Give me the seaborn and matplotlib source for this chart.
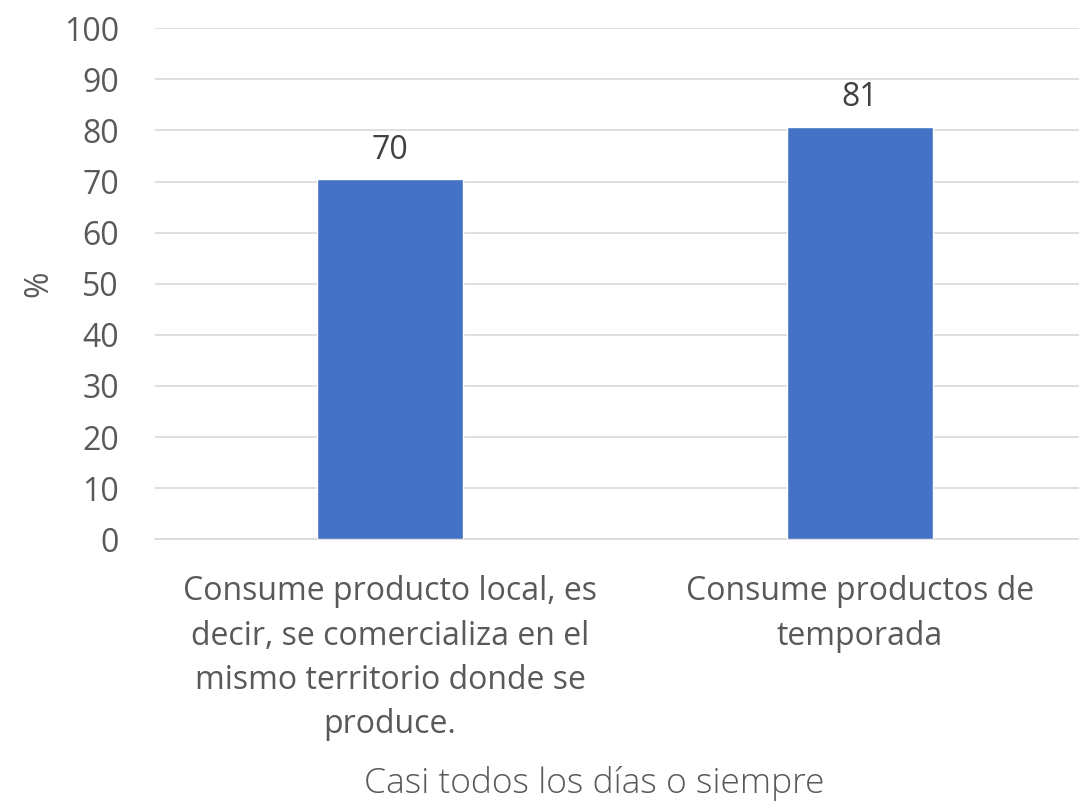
import matplotlib
matplotlib.use("Agg")
import matplotlib.pyplot as plt
import seaborn as sns
import pandas as pd

categories = [
    "Consume producto local, es\ndecir, se comercializa en el\nmismo territorio donde se\nproduce.",
    "Consume productos de\ntemporada",
]
values = [70.4, 80.7]
y_ticks = [0, 10, 20, 30, 40, 50, 60, 70, 80, 90, 100]
title = "Casi todos los días o siempre"
y_label = "%"

sns.set_theme(style="white")
plt.rcParams["font.family"] = ["Open Sans", "DejaVu Sans"]

text_color = "#595959"
bar_color = "#4472C4"
fs = 23

df = pd.DataFrame({"cat": categories, "val": values})

fig = plt.figure(figsize=(10.79, 8.06), dpi=100)
# plot area runs slightly past the right edge of the figure
ax = fig.add_axes([0.1437, 0.331, 0.8712, 0.634])

sns.barplot(data=df, x="cat", y="val", color=bar_color, width=0.31,
            saturation=1, ax=ax, zorder=3)

ax.set_ylim(0, 100)
ax.set_xlim(-0.5, 1.5)
ax.set_yticks(y_ticks)
ax.set_yticklabels([str(t) for t in y_ticks], fontsize=fs, color=text_color)
ax.yaxis.grid(True, color="#D9D9D9", linewidth=1.2, zorder=0)
ax.set_axisbelow(True)
ax.tick_params(axis="y", length=0, pad=26)
ax.tick_params(axis="x", length=0, pad=26)
ax.set_xticklabels(categories, fontsize=fs, color=text_color, linespacing=1.45,
                   va="top")
for s in ["top", "right", "left"]:
    ax.spines[s].set_visible(False)
ax.spines["bottom"].set_color("#D9D9D9")
ax.spines["bottom"].set_linewidth(1.2)

ax.set_xlabel("")
ax.set_ylabel(y_label, fontsize=fs, color=text_color, labelpad=6)

for container in ax.containers:
    ax.bar_label(container, fmt="%.0f", padding=9, fontsize=fs, color="#404040")

fig.text(0.551, 0.028, title, ha="center", va="center", fontsize=25.5,
         color=text_color, fontweight="light")

fig.savefig("out.png", dpi=100, facecolor="white")
